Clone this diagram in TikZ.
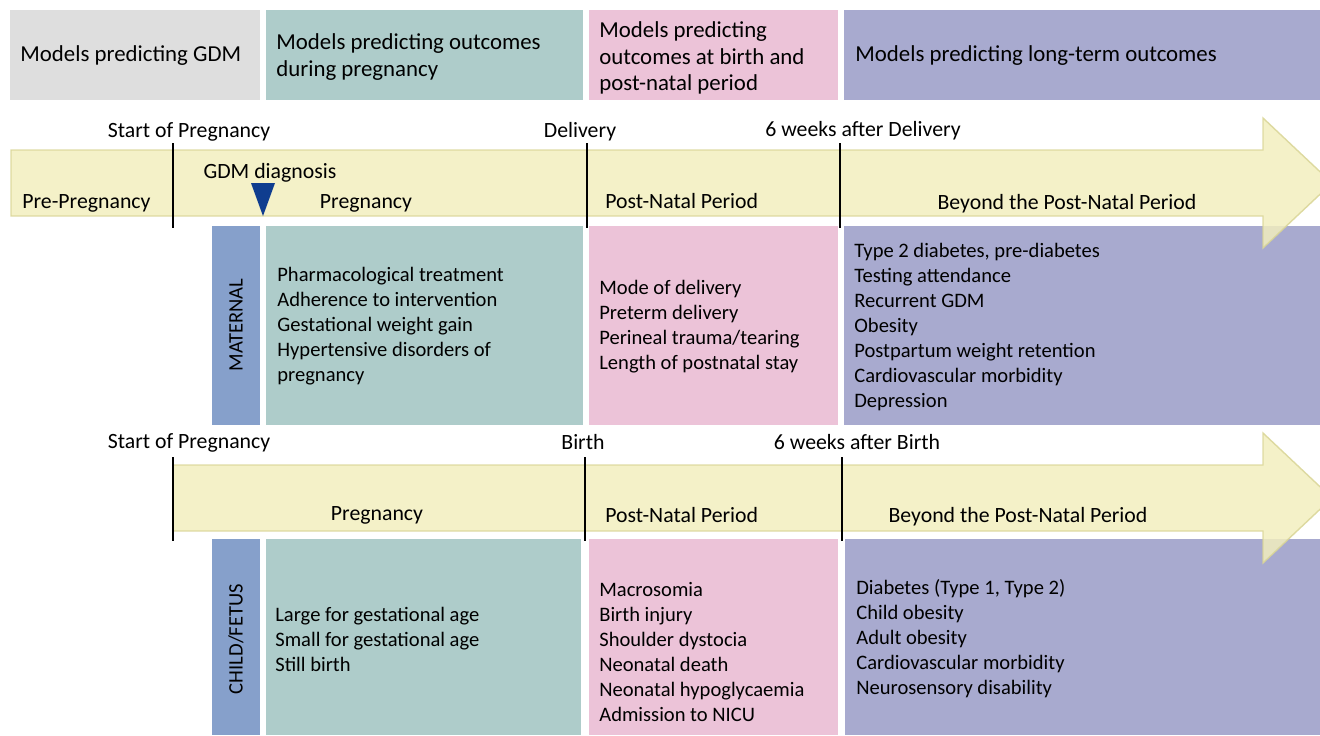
\documentclass[tikz,border=0pt]{standalone}
\usepackage{fontspec}
\setmainfont{Carlito}

\definecolor{gdmgrey}{HTML}{DEDEDE}
\definecolor{tealbox}{HTML}{AECCCA}
\definecolor{pinkbox}{HTML}{ECC3D8}
\definecolor{purplebox}{HTML}{A8AACF}
\definecolor{sidebar}{HTML}{86A0CB}
\definecolor{arrowfill}{HTML}{F2EEBE}
\definecolor{arrowline}{HTML}{D9D596}
\definecolor{gdmblue}{HTML}{0F3D8F}

\tikzset{
  hdrtext/.style={anchor=west, align=left, inner sep=0pt, font=\fontsize{13pt}{15pt}\selectfont},
  celltext/.style={anchor=west, align=left, inner sep=0pt, font=\fontsize{11.7pt}{14.2pt}\selectfont},
  timetext/.style={anchor=base, inner sep=0pt, font=\fontsize{12.4pt}{14pt}\selectfont},
  sidetext/.style={rotate=90, inner sep=0pt, font=\fontsize{11.7pt}{14pt}\selectfont},
  timearrow/.style={fill=arrowfill, draw=arrowline, line width=0.8pt, opacity=0.85},
  timetick/.style={line width=1.7pt}
}

\begin{document}
\begin{tikzpicture}[x=0.02cm, y=-0.02cm]
	\useasboundingbox (0,0) rectangle (1320,735);
	\clip (0,0) rectangle (1320,735);
	% header row
	\fill[gdmgrey] (10,10) rectangle (260,100);
	\fill[tealbox] (266,10) rectangle (583,100);
	\fill[pinkbox] (589,10) rectangle (838,100);
	\fill[purplebox] (844,10) rectangle (1320,100);
	\node[hdrtext] (hgdm) at (20,56) {Models predicting GDM};
	\node[hdrtext] (hpreg) at (276,57) {Models predicting outcomes\\during pregnancy};
	\node[hdrtext] (hbirth) at (599,58) {Models predicting\\outcomes at birth and\\post-natal period};
	\node[hdrtext] (hlong) at (855,56) {Models predicting long-term outcomes};
	% maternal row
	\fill[sidebar] (212,226) rectangle (260,425);
	\fill[tealbox] (266,226) rectangle (583,425);
	\fill[pinkbox] (589,226) rectangle (838,425);
	\fill[purplebox] (844,226) rectangle (1320,425);
	% child row
	\fill[sidebar] (212,539) rectangle (260,735);
	\fill[tealbox] (266,539) rectangle (581,735);
	\fill[pinkbox] (589,539) rectangle (838,735);
	\fill[purplebox] (845,539) rectangle (1320,735);
	% time arrows
	\draw[timearrow] (11,150) -- (1263,150) -- (1263,118) -- (1332,183) -- (1263,248) -- (1263,216) -- (11,216) -- cycle;
	\draw[timearrow] (173,465) -- (1263,465) -- (1263,433) -- (1332,498) -- (1263,563) -- (1263,531) -- (173,531) -- cycle;
	\foreach \x in {173,587,840} \draw[timetick] (\x,143) -- (\x,228);
	\foreach \x in {173,585,842} \draw[timetick] (\x,457) -- (\x,541);
	\fill[gdmblue] (251,183) -- (275,183) -- (263,216) -- cycle;
	% maternal timeline labels
	\node[timetext] (mstart) at (189,137) {Start of Pregnancy};
	\node[timetext] (mdeliv) at (580,137) {Delivery};
	\node[timetext] (msix) at (863,136) {6 weeks after Delivery};
	\node[timetext] (mgdm) at (270,178) {GDM diagnosis};
	\node[timetext, anchor=base west] (mpre) at (22,208) {Pre-Pregnancy};
	\node[timetext] (mpreg) at (366,208) {Pregnancy};
	\node[timetext, anchor=base west] (mpost) at (605,208) {Post-Natal Period};
	\node[timetext] (mbeyond) at (1067,209) {Beyond the Post-Natal Period};
	% child timeline labels
	\node[timetext] (cstart) at (189,448) {Start of Pregnancy};
	\node[timetext] (cbirth) at (583,449) {Birth};
	\node[timetext] (csix) at (857,449) {6 weeks after Birth};
	\node[timetext] (cpreg) at (377,520) {Pregnancy};
	\node[timetext, anchor=base west] (cpost) at (605,522) {Post-Natal Period};
	\node[timetext] (cbeyond) at (1018,522) {Beyond the Post-Natal Period};
	% cell texts
	\node[sidetext] (maternal) at (236,325) {MATERNAL};
	\node[sidetext] (child) at (236,639) {CHILD/FETUS};
	\node[celltext] (mpregtxt) at (277,326) {Pharmacological treatment\\Adherence to intervention\\Gestational weight gain\\Hypertensive disorders of\\pregnancy};
	\node[celltext] (mbirthtxt) at (599,327) {Mode of delivery\\Preterm delivery\\Perineal trauma/tearing\\Length of postnatal stay};
	\node[celltext] (mlongtxt) at (854,327) {Type 2 diabetes, pre-diabetes\\Testing attendance\\Recurrent GDM\\Obesity\\Postpartum weight retention\\Cardiovascular morbidity\\Depression};
	\node[celltext] (cpregtxt) at (275,639) {Large for gestational age\\Small for gestational age\\Still birth};
	\node[celltext] (cbirthtxt) at (599,652) {Macrosomia\\Birth injury\\Shoulder dystocia\\Neonatal death\\Neonatal hypoglycaemia\\Admission to NICU};
	\node[celltext] (clongtxt) at (856,639) {Diabetes (Type 1, Type 2)\\Child obesity\\Adult obesity\\Cardiovascular morbidity\\Neurosensory disability};
\end{tikzpicture}
\end{document}
